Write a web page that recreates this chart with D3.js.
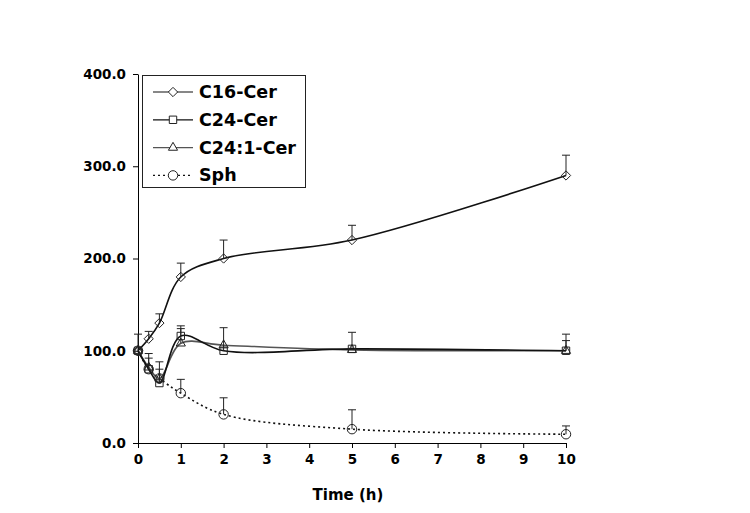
<!DOCTYPE html>
<html><head><meta charset="utf-8">
<script src="https://cdn.jsdelivr.net/npm/d3@7"></script>
<style>body{margin:0;background:#fff}svg{display:block}text{font-family:"DejaVu Sans",Verdana,sans-serif;font-weight:bold;fill:#000}</style>
</head><body><svg id="c" width="750" height="513"></svg>
<script>
const times = [0, 0.25, 0.5, 1, 2, 5, 10];
const c16 = [100, 113, 130, 180, 200, 220, 290];
const c16Err = [18, 8, 10, 15, 20, 16, 22];
const c24 = [100, 80, 65, 116, 100, 102, 100];
const c24Err = [0, 17, 23, 8, 25, 18, 18];
const c241 = [100, 82, 70, 108, 106, 101, 100];
const c241Err = [0, 10, 10, 19, 0, 0, 11];
const sph = [100, 80, 70, 54, 31, 15, 9.5];
const sphErr = [0, 0, 0, 15, 18, 21, 9];
const yTicks = [0, 100, 200, 300, 400];
const xTicks = [0,1,2,3,4,5,6,7,8,9,10];
const names = ["C16-Cer", "C24-Cer", "C24:1-Cer", "Sph"];

const series = [
  {name: names[0], v: c16, e: c16Err, sym: d3.symbolDiamond2, color: "#111", dash: null, size: 55},
  {name: names[1], v: c24, e: c24Err, sym: d3.symbolSquare2, color: "#111", dash: null, size: 70},
  {name: names[2], v: c241, e: c241Err, sym: d3.symbolTriangle2, color: "#555", dash: null, size: 60},
  {name: names[3], v: sph, e: sphErr, sym: d3.symbolCircle, color: "#111", dash: "2,3", size: 70}
];

const svg = d3.select("#c");
svg.append("rect").attr("width",750).attr("height",513).attr("fill","#fff");
const x = d3.scaleLinear().domain([0,10]).range([138,566]);
const y = d3.scaleLinear().domain([0,400]).range([443,74]);

const xa = svg.append("g").attr("transform","translate(0,443)")
  .call(d3.axisBottom(x).tickValues(xTicks).tickSize(5).tickSizeOuter(0).tickPadding(6).tickFormat(d3.format("d")));
const ya = svg.append("g").attr("transform","translate(138,0)")
  .call(d3.axisLeft(y).tickValues(yTicks).tickSize(5).tickSizeOuter(0).tickPadding(7).tickFormat(d3.format(".1f")));
[xa, ya].forEach(a => {
  a.selectAll("path,line").attr("stroke","#000").attr("stroke-width",1);
  a.selectAll("text").style("font-size","13.5px").style("font-family","'DejaVu Sans',Verdana,sans-serif").style("font-weight","bold");
});
svg.append("text").attr("x",348).attr("y",500).attr("text-anchor","middle").style("font-size","15px").text("Time (h)");

const line = d3.line().x((d,i)=>x(times[i])).y(d=>y(d)).curve(d3.curveCatmullRom.alpha(0.5));

series.slice().reverse().forEach(s => {
  svg.append("path").attr("d", line(s.v)).attr("fill","none").attr("stroke", s.color)
    .attr("stroke-width", 1.6).attr("stroke-dasharray", s.dash);
});
series.forEach(s => {
  const g = svg.append("g");
  s.v.forEach((v,i) => {
    if (s.e[i] > 0) {
      g.append("line").attr("x1",x(times[i])).attr("x2",x(times[i])).attr("y1",y(v)).attr("y2",y(v+s.e[i])).attr("stroke","#222").attr("stroke-width",1);
      g.append("line").attr("x1",x(times[i])-4).attr("x2",x(times[i])+4).attr("y1",y(v+s.e[i])).attr("y2",y(v+s.e[i])).attr("stroke","#222").attr("stroke-width",1);
    }
  });
});
series.forEach(s => {
  svg.append("g").selectAll("path").data(s.v).join("path")
    .attr("transform",(d,i)=>`translate(${x(times[i])},${y(d)})`)
    .attr("d", d3.symbol().type(s.sym).size(s.size)())
    .attr("fill","none").attr("stroke","#222").attr("stroke-width",1);
});

// legend
const lg = svg.append("g");
lg.append("rect").attr("x",142.5).attr("y",75.5).attr("width",163).attr("height",112).attr("fill","#fff").attr("stroke","#222").attr("stroke-width",1);
series.forEach((s,i) => {
  const yy = 92 + i*27.8;
  lg.append("line").attr("x1",153).attr("x2",193).attr("y1",yy).attr("y2",yy).attr("stroke",s.color).attr("stroke-width",1.2).attr("stroke-dasharray", s.dash);
  lg.append("path").attr("transform",`translate(173,${yy})`).attr("d", d3.symbol().type(s.sym).size(s.size)())
    .attr("fill","#fff").attr("stroke","#222").attr("stroke-width",1);
  lg.append("text").attr("x",199).attr("y",yy+6).style("font-size","17.5px").text(s.name);
});
</script></body></html>
